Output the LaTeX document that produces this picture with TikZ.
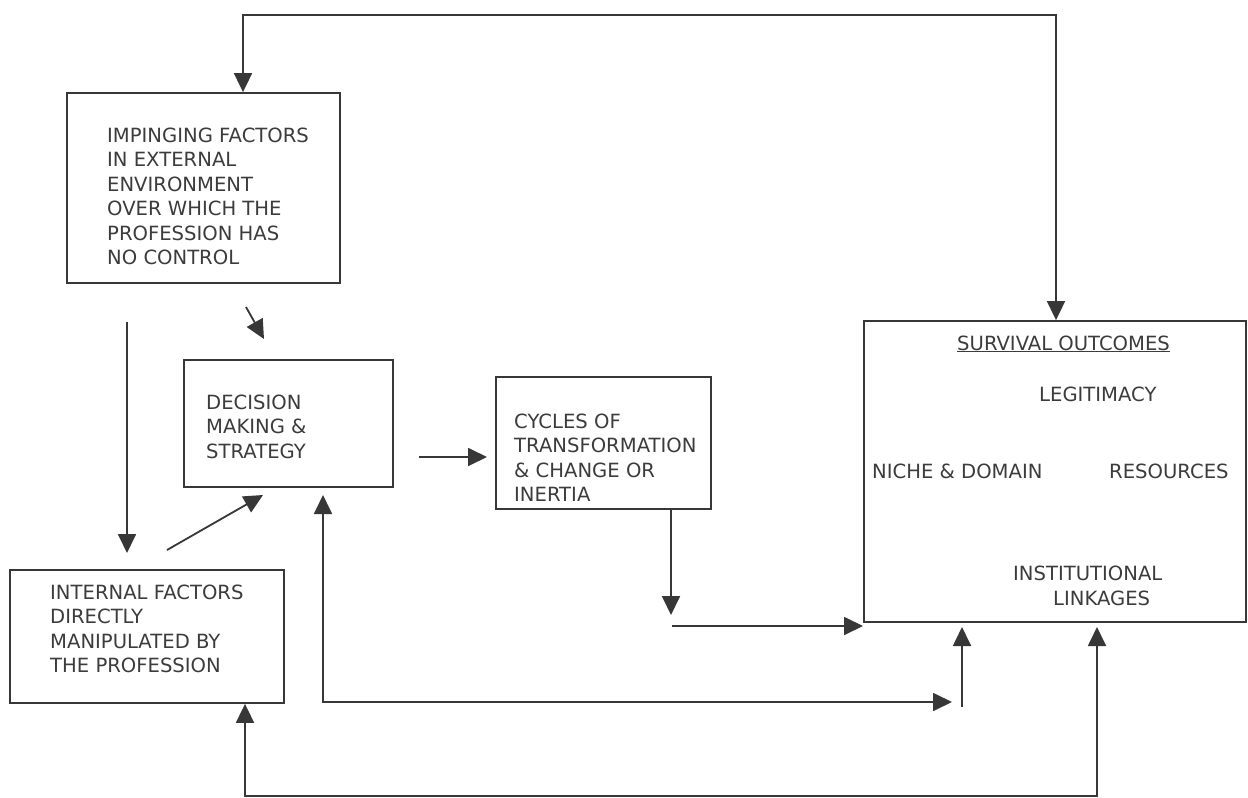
\documentclass[tikz,border=0pt]{standalone}
\usepackage{fontspec}
\setmainfont{DejaVu Sans}
\usetikzlibrary{arrows.meta,calc}
\definecolor{ln}{RGB}{55,55,55}
\definecolor{tx}{RGB}{60,60,60}
\begin{document}
\begin{tikzpicture}[x=1pt,y=-1pt,
  box/.style={draw=ln, line width=1.8pt, inner sep=0pt, rectangle},
  lbl/.style={text=tx, inner sep=0pt, font=\fontsize{19.6}{24.5}\selectfont, align=left},
  conn/.style={draw=ln, line width=1.8pt, -{Triangle[length=19pt,width=18pt]}},
  dconn/.style={draw=ln, line width=1.8pt, {Triangle[length=19pt,width=18pt]}-{Triangle[length=19pt,width=18pt]}},
]
\useasboundingbox[fill=white] (0,0) rectangle (1248,798);

% boxes
\node[box, minimum width=273pt, minimum height=190pt] (imp) at (203.5,188) {};
\node[box, minimum width=209pt, minimum height=127pt] (dec) at (288.5,423.5) {};
\node[box, minimum width=215pt, minimum height=132pt] (cyc) at (603.5,443) {};
\node[box, minimum width=274pt, minimum height=133pt] (intl) at (147,636.5) {};
\node[box, minimum width=382pt, minimum height=301pt] (surv) at (1055,471.5) {};

% box texts
\node[lbl, anchor=north west] (impT) at (107,127.7) {IMPINGING FACTORS\\IN EXTERNAL\\ENVIRONMENT\\OVER WHICH THE\\PROFESSION HAS\\NO CONTROL};
\node[lbl, anchor=north west] (decT) at (206,394.7) {DECISION\\MAKING \&\\STRATEGY};
\node[lbl, anchor=north west] (cycT) at (514,413.7) {CYCLES OF\\TRANSFORMATION\\\& CHANGE OR\\INERTIA};
\node[lbl, anchor=north west] (intlT) at (50,584.7) {INTERNAL FACTORS\\DIRECTLY\\MANIPULATED BY\\THE PROFESSION};

\node[lbl, anchor=base west] (survT) at (957,350) {\underline{SURVIVAL OUTCOMES}};
\node[lbl, anchor=base west] (legT) at (1039,401) {LEGITIMACY};
\node[lbl, anchor=base west] (nicT) at (872,478) {NICHE \& DOMAIN};
\node[lbl, anchor=base west] (resT) at (1109,478) {RESOURCES};
\node[lbl, anchor=base west] (insT) at (1013,580) {INSTITUTIONAL};
\node[lbl, anchor=base west] (linT) at (1053,605) {LINKAGES};

% free-end coordinates
\coordinate (t1) at (243,15);
\coordinate (t2) at (1056,15);
\coordinate (v1) at (127,322);
\coordinate (v2) at (127,553);
\coordinate (s1) at (246,307);
\coordinate (s2) at (264,339);
\coordinate (d1) at (167,550);
\coordinate (d2) at (263,495);
\coordinate (h1) at (419,457);
\coordinate (h2) at (487,457);
\coordinate (c2) at (671,615);
\coordinate (k1) at (672,626);
\coordinate (k2) at (863,626);
\coordinate (l1) at (323,495);
\coordinate (l2) at (323,702);
\coordinate (l3) at (952,702);
\coordinate (m1) at (962,707);
\coordinate (m2) at (962,627);
\coordinate (b1) at (245,796);
\coordinate (b2) at (1097,796);
\coordinate (b3) at (1097,627);

% connectors
\draw[dconn] (t1 |- imp.north) -- (t1) -- (t2) -- (t2 |- surv.north);
\draw[conn] (v1) -- (v2);
\draw[conn] (s1) -- (s2);
\draw[conn] (d1) -- (d2);
\draw[conn] (h1) -- (h2);
\draw[conn] (c2 |- cyc.south) -- (c2);
\draw[conn] (k1) -- (k2);
\draw[dconn] (l1) -- (l2) -- (l3);
\draw[conn] (m1) -- (m2);
\draw[dconn] (b1 |- intl.south) -- (b1) -- (b2) -- (b3);
\end{tikzpicture}
\end{document}
